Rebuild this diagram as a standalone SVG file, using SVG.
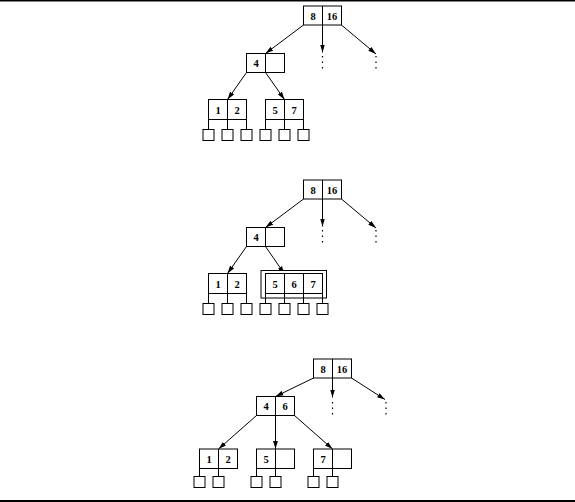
<svg xmlns="http://www.w3.org/2000/svg" width="575" height="502" viewBox="0 0 575 502">
<defs>
<style>
.b{fill:#fff;stroke:#000;stroke-width:1}
.l{stroke:#000;stroke-width:1;fill:none}
.a{stroke:#000;stroke-width:1;fill:none;marker-end:url(#ah)}
.d{stroke:#000;stroke-width:1.2;fill:none;stroke-dasharray:1.5,4}
.t{font-family:"Liberation Serif","DejaVu Serif",serif;font-weight:bold;font-size:10.5px;text-anchor:middle;fill:#000}
</style>
<marker id="ah" markerUnits="userSpaceOnUse" markerWidth="8" markerHeight="6" refX="8" refY="3" orient="auto">
<path d="M0,0.6 L8,3 L0,5.4 z" fill="#000"/>
</marker>
</defs>
<rect width="575" height="502" fill="#fff"/>
<line x1="0" y1="0.75" x2="575" y2="0.75" stroke="#000" stroke-width="1.5"/>
<line x1="0" y1="501" x2="575" y2="501" stroke="#000" stroke-width="2"/>

<g id="connectors">
<!-- tree 1 -->
<line class="a" x1="303.5" y1="25" x2="265.5" y2="53.5"/>
<line class="a" x1="322.5" y1="25" x2="322.5" y2="52.5"/>
<line class="a" x1="341.5" y1="25" x2="376" y2="54"/>
<line class="d" x1="322.5" y1="56" x2="322.5" y2="70"/>
<line class="d" x1="376" y1="56" x2="376" y2="70"/>
<line class="a" x1="246.5" y1="72.5" x2="227.5" y2="99.5"/>
<line class="a" x1="265.5" y1="72.5" x2="284.5" y2="99.5"/>
<!-- tree 2 -->
<line class="a" x1="303.5" y1="199" x2="265.5" y2="227.5"/>
<line class="a" x1="322.5" y1="199" x2="322.5" y2="226.5"/>
<line class="a" x1="341.5" y1="199" x2="376" y2="228"/>
<line class="d" x1="322.5" y1="230" x2="322.5" y2="244"/>
<line class="d" x1="376" y1="230" x2="376" y2="244"/>
<line class="a" x1="246.5" y1="246.5" x2="227.5" y2="273.5"/>
<line class="a" x1="265.5" y1="246.5" x2="284.5" y2="274"/>
<!-- tree 3 -->
<line class="a" x1="313.5" y1="378" x2="275.5" y2="396.5"/>
<line class="a" x1="332.5" y1="378" x2="332.5" y2="397.5"/>
<line class="a" x1="351.5" y1="378" x2="385" y2="399.5"/>
<line class="d" x1="332.5" y1="402" x2="332.5" y2="417"/>
<line class="d" x1="386" y1="402" x2="386" y2="417"/>
<line class="a" x1="256.5" y1="415.5" x2="218.5" y2="449"/>
<line class="a" x1="275.5" y1="415.5" x2="275.5" y2="449"/>
<line class="a" x1="294.5" y1="415.5" x2="332.5" y2="449"/>
</g>

<!-- ===== Tree 1 ===== -->
<g id="t1-root">
<rect class="b" x="303.5" y="6" width="38" height="19"/>
<line class="l" x1="322.5" y1="6" x2="322.5" y2="25"/>
<text class="t" x="313" y="19.5">8</text>
<text class="t" x="332" y="19.5">16</text>
</g>
<g id="t1-n4">
<rect class="b" x="246.5" y="53.5" width="38" height="19"/>
<line class="l" x1="265.5" y1="53.5" x2="265.5" y2="72.5"/>
<text class="t" x="256" y="67">4</text>
</g>
<g id="t1-n12">
<rect class="b" x="208.5" y="99.5" width="38" height="20"/>
<line class="l" x1="227.5" y1="99.5" x2="227.5" y2="129.5"/>
<line class="l" x1="208.5" y1="119.5" x2="208.5" y2="129.5"/>
<line class="l" x1="246.5" y1="119.5" x2="246.5" y2="129.5"/>
<text class="t" x="218" y="113.5">1</text>
<text class="t" x="237" y="113.5">2</text>
</g>
<g id="t1-n57">
<rect class="b" x="265.5" y="99.5" width="38" height="20"/>
<line class="l" x1="284.5" y1="99.5" x2="284.5" y2="129.5"/>
<line class="l" x1="265.5" y1="119.5" x2="265.5" y2="129.5"/>
<line class="l" x1="303.5" y1="119.5" x2="303.5" y2="129.5"/>
<text class="t" x="275" y="113.5">5</text>
<text class="t" x="294" y="113.5">7</text>
</g>
<g id="t1-leaves">
<rect class="b" x="203" y="129.5" width="11" height="11"/>
<rect class="b" x="222" y="129.5" width="11" height="11"/>
<rect class="b" x="241" y="129.5" width="11" height="11"/>
<rect class="b" x="260" y="129.5" width="11" height="11"/>
<rect class="b" x="279" y="129.5" width="11" height="11"/>
<rect class="b" x="298" y="129.5" width="11" height="11"/>
</g>

<!-- ===== Tree 2 ===== -->
<g id="t2-root">
<rect class="b" x="303.5" y="180" width="38" height="19"/>
<line class="l" x1="322.5" y1="180" x2="322.5" y2="199"/>
<text class="t" x="313" y="193.5">8</text>
<text class="t" x="332" y="193.5">16</text>
</g>
<g id="t2-n4">
<rect class="b" x="246.5" y="227.5" width="38" height="19"/>
<line class="l" x1="265.5" y1="227.5" x2="265.5" y2="246.5"/>
<text class="t" x="256" y="241">4</text>
</g>
<g id="t2-n12">
<rect class="b" x="208.5" y="273.5" width="38" height="20"/>
<line class="l" x1="227.5" y1="273.5" x2="227.5" y2="303.5"/>
<line class="l" x1="208.5" y1="293.5" x2="208.5" y2="303.5"/>
<line class="l" x1="246.5" y1="293.5" x2="246.5" y2="303.5"/>
<text class="t" x="218" y="287.5">1</text>
<text class="t" x="237" y="287.5">2</text>
</g>
<g id="t2-n567">
<rect class="b" x="261" y="270.5" width="65.5" height="27.5"/>
<rect class="b" x="265.5" y="273.5" width="57" height="20"/>
<line class="l" x1="284.5" y1="273.5" x2="284.5" y2="303.5"/>
<line class="l" x1="303.5" y1="273.5" x2="303.5" y2="303.5"/>
<line class="l" x1="265.5" y1="293.5" x2="265.5" y2="303.5"/>
<line class="l" x1="322.5" y1="293.5" x2="322.5" y2="303.5"/>
<text class="t" x="275" y="287.5">5</text>
<text class="t" x="294" y="287.5">6</text>
<text class="t" x="313" y="287.5">7</text>
</g>
<g id="t2-leaves">
<rect class="b" x="203" y="303.5" width="11" height="11"/>
<rect class="b" x="222" y="303.5" width="11" height="11"/>
<rect class="b" x="241" y="303.5" width="11" height="11"/>
<rect class="b" x="260" y="303.5" width="11" height="11"/>
<rect class="b" x="279" y="303.5" width="11" height="11"/>
<rect class="b" x="298" y="303.5" width="11" height="11"/>
<rect class="b" x="317" y="303.5" width="11" height="11"/>
</g>

<!-- ===== Tree 3 ===== -->
<g id="t3-root">
<rect class="b" x="313.5" y="359" width="38" height="19"/>
<line class="l" x1="332.5" y1="359" x2="332.5" y2="378"/>
<text class="t" x="323" y="372.5">8</text>
<text class="t" x="342" y="372.5">16</text>
</g>
<g id="t3-n46">
<rect class="b" x="256.5" y="396.5" width="38" height="19"/>
<line class="l" x1="275.5" y1="396.5" x2="275.5" y2="415.5"/>
<text class="t" x="266" y="410">4</text>
<text class="t" x="285" y="410">6</text>
</g>
<g id="t3-n12">
<rect class="b" x="199.5" y="449" width="38" height="19.5"/>
<line class="l" x1="218.5" y1="449" x2="218.5" y2="476.5"/>
<line class="l" x1="199.5" y1="468.5" x2="199.5" y2="476.5"/>
<text class="t" x="209" y="462.5">1</text>
<text class="t" x="228" y="462.5">2</text>
</g>
<g id="t3-n5">
<rect class="b" x="256.5" y="449" width="38" height="19.5"/>
<line class="l" x1="275.5" y1="449" x2="275.5" y2="476.5"/>
<line class="l" x1="256.5" y1="468.5" x2="256.5" y2="476.5"/>
<text class="t" x="266" y="462.5">5</text>
</g>
<g id="t3-n7">
<rect class="b" x="313.5" y="449" width="38" height="19.5"/>
<line class="l" x1="332.5" y1="449" x2="332.5" y2="476.5"/>
<line class="l" x1="313.5" y1="468.5" x2="313.5" y2="476.5"/>
<text class="t" x="323" y="462.5">7</text>
</g>
<g id="t3-leaves">
<rect class="b" x="194" y="476.5" width="11" height="11"/>
<rect class="b" x="213" y="476.5" width="11" height="11"/>
<rect class="b" x="251" y="476.5" width="11" height="11"/>
<rect class="b" x="270" y="476.5" width="11" height="11"/>
<rect class="b" x="308" y="476.5" width="11" height="11"/>
<rect class="b" x="327" y="476.5" width="11" height="11"/>
</g>
</svg>
